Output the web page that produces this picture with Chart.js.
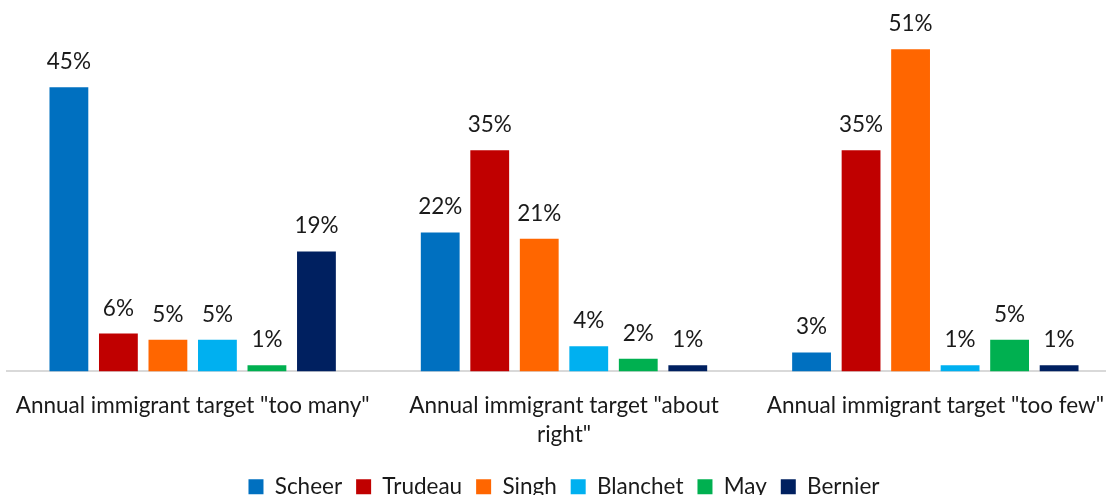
<!DOCTYPE html>
<html>
<head>
<meta charset="utf-8">
<script src="https://cdn.jsdelivr.net/npm/chart.js@4/dist/chart.umd.min.js"></script>
<style>
  html, body { margin: 0; padding: 0; background: #fff; overflow: hidden; }
  #wrap { width: 1106px; height: 495px; overflow: hidden; }
</style>
</head>
<body>
<div id="wrap"><canvas id="chart" width="1128" height="508"></canvas></div>
<script>
var categories = [
  'Annual immigrant target "too many"',
  ['Annual immigrant target "about', 'right"'],
  'Annual immigrant target "too few"'
];
var scheer   = [45, 22, 3];
var trudeau  = [6, 35, 35];
var singh    = [5, 21, 51];
var blanchet = [5, 4, 1];
var may      = [1, 2, 5];
var bernier  = [19, 1, 1];

var FONT = 'Lato';
var SIZE = 22.5;

// value labels above each bar
var barLabels = {
  id: 'barLabels',
  afterDatasetsDraw: function(chart) {
    var ctx = chart.ctx;
    ctx.save();
    ctx.font = SIZE + 'px ' + FONT;
    ctx.fillStyle = '#1a1a1a';
    ctx.textAlign = 'center';
    ctx.textBaseline = 'alphabetic';
    chart.data.datasets.forEach(function(ds, i) {
      var meta = chart.getDatasetMeta(i);
      meta.data.forEach(function(bar, j) {
        ctx.fillText(ds.data[j] + '%', bar.x, bar.y - 18);
      });
    });
    ctx.restore();
  }
};

function series(label, data, color) {
  return {
    label: label,
    data: data,
    backgroundColor: color,
    borderWidth: 0,
    categoryPercentage: 0.8,
    barPercentage: 0.784
  };
}

new Chart(document.getElementById('chart'), {
  type: 'bar',
  data: {
    labels: categories,
    datasets: [
      series('Scheer', scheer, '#0070c0'),
      series('Trudeau', trudeau, '#c00000'),
      series('Singh', singh, '#ff6600'),
      series('Blanchet', blanchet, '#00b0f0'),
      series('May', may, '#00b050'),
      series('Bernier', bernier, '#002060')
    ]
  },
  options: {
    responsive: false,
    animation: false,
    devicePixelRatio: 1,
    layout: { padding: { left: 7, right: 7, top: 5, bottom: 0 } },
    plugins: {
      tooltip: { enabled: false },
      legend: {
        position: 'bottom',
        labels: {
          font: { family: FONT, size: SIZE },
          color: '#1a1a1a',
          boxWidth: 15,
          boxHeight: 15,
          padding: 14
        }
      }
    },
    scales: {
      x: {
        grid: { display: false },
        border: { display: true, color: '#d9d9d9', width: 2 },
        ticks: {
          font: { family: FONT, size: SIZE, lineHeight: 1.29 },
          color: '#1a1a1a',
          padding: 12,
          maxRotation: 0,
          autoSkip: false
        }
      },
      y: {
        display: false,
        min: 0,
        max: 58
      }
    }
  },
  plugins: [barLabels]
});
</script>
</body>
</html>
